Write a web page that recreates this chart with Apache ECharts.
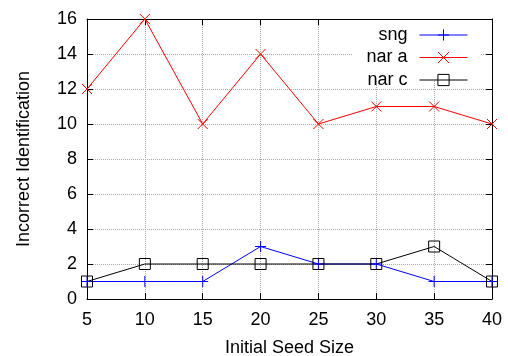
<!DOCTYPE html>
<html><head><meta charset="utf-8">
<script src="https://cdn.jsdelivr.net/npm/echarts@6/dist/echarts.min.js"></script>
<style>html,body{margin:0;padding:0;background:#fff}#c{width:508px;height:356px}</style>
</head><body><div id="c"></div>
<script>
var seedSizes = [5, 10, 15, 20, 25, 30, 35, 40];
var sngValues = [1, 1, 1, 3, 2, 2, 1, 1];
var narAValues = [12, 16, 10, 14, 10, 11, 11, 10];
var narCValues = [1, 2, 2, 2, 2, 2, 3, 1];
var seriesNames = ['sng', 'nar a', 'nar c'];

function pairs(vals){ return seedSizes.map(function(x,i){ return [x, vals[i]]; }); }

var chart = echarts.init(document.getElementById('c'), null, {renderer:'canvas'});
var font = 'Liberation Sans, Arial, sans-serif';
var fs = 18;
var gridLine = {show:true, lineStyle:{color:'#a8a8a8', type:[1,1], width:1}};
var tickIn = {show:true, inside:true, length:6, lineStyle:{color:'#000'}};
chart.setOption({
  animation:false,
  backgroundColor:'#fff',
  grid:{left:87, right:16, top:19, bottom:57, containLabel:false, outerBoundsMode:'none'},
  legend:{
    orient:'vertical', right:35, top:21, align:'right',
    itemWidth:48, itemHeight:14, itemGap:4.5,
    itemStyle:{borderWidth:1},
    lineStyle:{width:1},
    textStyle:{fontFamily:font, fontSize:fs, lineHeight:14, color:'#000', padding:[0,7,0,0]},
    data:seriesNames
  },
  graphic:[{type:'rect', shape:{x:352, y:20, width:128, height:60}, style:{fill:'#fff'}, z:1, silent:true}],
  xAxis:[{
    type:'value', min:5, max:40, interval:5, position:'bottom',
    name:'Initial Seed Size', nameLocation:'middle', nameGap:40,
    nameTextStyle:{fontFamily:font, fontSize:fs, color:'#000'},
    axisLine:{show:true, lineStyle:{color:'#000', width:1}},
    axisTick:tickIn,
    axisLabel:{fontFamily:font, fontSize:fs, color:'#000', margin:12},
    splitLine:gridLine
  },{
    type:'value', min:5, max:40, interval:5, position:'top',
    axisLine:{show:true, onZero:false, lineStyle:{color:'#000', width:1}},
    axisTick:tickIn, axisLabel:{show:false}, splitLine:{show:false}
  }],
  yAxis:[{
    type:'value', min:0, max:16, interval:2, position:'left',
    name:'Incorrect Identification', nameLocation:'middle', nameGap:54, nameRotate:90,
    nameTextStyle:{fontFamily:font, fontSize:fs, color:'#000'},
    axisLine:{show:true, lineStyle:{color:'#000', width:1}},
    axisTick:tickIn,
    axisLabel:{fontFamily:font, fontSize:fs, color:'#000', margin:10},
    splitLine:gridLine
  },{
    type:'value', min:0, max:16, interval:2, position:'right',
    axisLine:{show:true, onZero:false, lineStyle:{color:'#000', width:1}},
    axisTick:tickIn, axisLabel:{show:false}, splitLine:{show:false}
  }],
  series:[{
    name:seriesNames[0], type:'line', data:pairs(sngValues), z:3,
    symbol:'path://M5,0L5,10M0,5L10,5', symbolSize:11,
    lineStyle:{color:'#0000ff', width:1},
    itemStyle:{color:'#0000ff', borderColor:'#0000ff', borderWidth:1}
  },{
    name:seriesNames[1], type:'line', data:pairs(narAValues), z:3,
    symbol:'path://M0,0L10,10M0,10L10,0', symbolSize:10,
    lineStyle:{color:'#ff0000', width:1},
    itemStyle:{color:'#ff0000', borderColor:'#ff0000', borderWidth:1}
  },{
    name:seriesNames[2], type:'line', data:pairs(narCValues), z:3,
    symbol:'path://M0,0L10,0L10,10L0,10Z', symbolSize:11,
    lineStyle:{color:'#000000', width:1},
    itemStyle:{color:'rgba(0,0,0,0)', borderColor:'#000000', borderWidth:1}
  }]
});
</script></body></html>
